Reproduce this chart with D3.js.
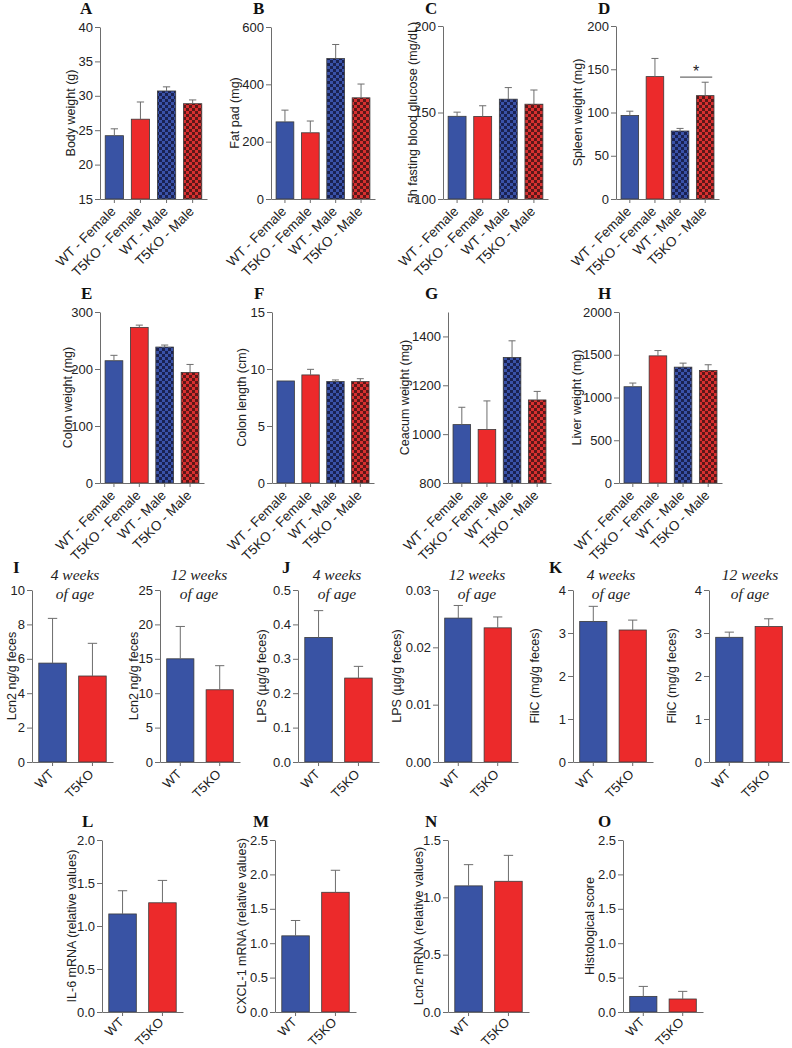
<!DOCTYPE html>
<html>
<head>
<meta charset="utf-8">
<script src="https://cdn.jsdelivr.net/npm/d3@7"></script>
<style>
  body { margin: 0; background: #fff; }
  svg { display: block; }
  text { font-family: "Liberation Sans", Arial, sans-serif; fill: #222; }
  .letter { font-family: "Liberation Serif", "Times New Roman", serif; font-weight: bold; font-size: 17px; fill: #111; }
  .sub { font-family: "Liberation Serif", "Times New Roman", serif; font-style: italic; font-size: 15.5px; fill: #222; }
</style>
</head>
<body>
<script>
// groups
var groups4 = ["WT - Female", "T5KO - Female", "WT - Male", "T5KO - Male"];
var groups2 = ["WT", "T5KO"];

// row 1
var bodyWeight = [24.2, 26.6, 30.7, 28.85];
var bodyWeightSem = [1.0, 2.5, 0.6, 0.55];
var fatPad = [269, 231, 490, 353];
var fatPadSem = [41, 41, 49, 48];
var glucose = [147.8, 147.7, 157.7, 154.8];
var glucoseSem = [2.4, 6.2, 6.7, 8.2];
var spleen = [96.5, 141.5, 78.6, 119.5];
var spleenSem = [5, 21, 3, 15.5];

// row 2
var colonWeight = [214.5, 273, 238.5, 194];
var colonWeightSem = [9.5, 4, 3.5, 14];
var colonLength = [8.95, 9.48, 8.9, 8.9];
var colonLengthSem = [0, 0.49, 0.14, 0.25];
var caecum = [1039, 1019, 1314, 1140];
var caecumSem = [71, 117, 68, 35];
var liver = [1126, 1487, 1355, 1317];
var liverSem = [43, 62, 47, 66];

// row 3
var lcn2Wk4 = [5.75, 5.0];
var lcn2Wk4Sem = [2.6, 1.9];
var lcn2Wk12 = [15.0, 10.5];
var lcn2Wk12Sem = [4.7, 3.5];
var lpsWk4 = [0.362, 0.244];
var lpsWk4Sem = [0.078, 0.034];
var lpsWk12 = [0.0251, 0.0234];
var lpsWk12Sem = [0.0022, 0.0019];
var flicWk4 = [3.27, 3.07];
var flicWk4Sem = [0.35, 0.23];
var flicWk12 = [2.9, 3.15];
var flicWk12Sem = [0.12, 0.18];

// row 4
var il6 = [1.14, 1.27];
var il6Sem = [0.27, 0.26];
var cxcl1 = [1.107, 1.74];
var cxcl1Sem = [0.223, 0.32];
var lcn2mRNA = [1.10, 1.14];
var lcn2mRNASem = [0.185, 0.226];
var histo = [0.227, 0.189];
var histoSem = [0.145, 0.111];

var blue = "#3953a4", red = "#ec2a2b";
var fills4 = [blue, red, "url(#chkBlue)", "url(#chkRed)"];
var fills2 = [blue, red];

var svg = d3.select("body").append("svg")
	.attr("width", 792)
	.attr("height", 1048);

var defs = svg.append("defs");
function checker(id, base, dark) {
	var p = defs.append("pattern").attr("id", id)
		.attr("width", 6).attr("height", 6)
		.attr("patternUnits", "userSpaceOnUse");
	p.append("rect").attr("width", 6).attr("height", 6).attr("fill", base);
	p.append("rect").attr("width", 3).attr("height", 3).attr("fill", dark);
	p.append("rect").attr("x", 3).attr("y", 3).attr("width", 3).attr("height", 3).attr("fill", dark);
}
checker("chkBlue", "#3a52a8", "#1a2252");
checker("chkRed", "#d83030", "#5c1818");

// layout of each panel: axis x start/end, axis top/bottom
var panels = [
	{letter: "A", lx: 80, ly: 14, x0: 100, x1: 207, y0: 27, y1: 199, dom: [15, 40], ticks: d3.range(15, 41, 5), fmt: "d", label: "Body weight (g)", labX: 71, cats: groups4, means: bodyWeight, sems: bodyWeightSem},
	{letter: "B", lx: 253, ly: 14, x0: 271, x1: 375, y0: 27, y1: 199, dom: [0, 600], ticks: [0, 200, 400, 600], fmt: "d", label: "Fat pad (mg)", labX: 235, cats: groups4, means: fatPad, sems: fatPadSem},
	{letter: "C", lx: 425, ly: 14, x0: 443, x1: 548, y0: 26, y1: 199, dom: [100, 200], ticks: [100, 150, 200], fmt: "d", label: "5h fasting blood glucose (mg/dL)", labX: 413, cats: groups4, means: glucose, sems: glucoseSem},
	{letter: "D", lx: 598, ly: 14, x0: 616, x1: 719, y0: 26, y1: 199, dom: [0, 200], ticks: d3.range(0, 201, 50), fmt: "d", label: "Spleen weight (mg)", labX: 578, cats: groups4, means: spleen, sems: spleenSem, sig: true},
	{letter: "E", lx: 81, ly: 299, x0: 100, x1: 204, y0: 312, y1: 483, dom: [0, 300], ticks: [0, 100, 200, 300], fmt: "d", label: "Colon weight (mg)", labX: 68, cats: groups4, means: colonWeight, sems: colonWeightSem},
	{letter: "F", lx: 254, ly: 299, x0: 272, x1: 374, y0: 312, y1: 483, dom: [0, 15], ticks: [0, 5, 10, 15], fmt: "d", label: "Colon length (cm)", labX: 242, cats: groups4, means: colonLength, sems: colonLengthSem},
	{letter: "G", lx: 425, ly: 299, x0: 448, x1: 551, y0: 312, y1: 483, dom: [800, 1500], ticks: [800, 1000, 1200, 1400], fmt: "d", label: "Ceacum weight (mg)", labX: 405, cats: groups4, means: caecum, sems: caecumSem},
	{letter: "H", lx: 598, ly: 299, x0: 619, x1: 722, y0: 312, y1: 483, dom: [0, 2000], ticks: d3.range(0, 2001, 500), fmt: "d", label: "Liver weight (mg)", labX: 577, cats: groups4, means: liver, sems: liverSem},
	{letter: "I", lx: 13, ly: 573, x0: 32, x1: 113, y0: 590, y1: 762, dom: [0, 10], ticks: d3.range(0, 11, 2), fmt: "d", label: "Lcn2 ng/g feces", labX: 12, cats: groups2, means: lcn2Wk4, sems: lcn2Wk4Sem, sub: ["4 weeks", "of age"], subX: 75},
	{x0: 160, x1: 240, y0: 590, y1: 762, dom: [0, 25], ticks: d3.range(0, 26, 5), fmt: "d", label: "Lcn2 ng/g feces", labX: 134, cats: groups2, means: lcn2Wk12, sems: lcn2Wk12Sem, sub: ["12 weeks", "of age"], subX: 199},
	{letter: "J", lx: 282, ly: 573, x0: 298, x1: 379, y0: 590, y1: 762, dom: [0, 0.5], ticks: d3.range(0, 0.51, 0.1), fmt: ".1f", label: "LPS (\u00b5g/g feces)", labX: 262, cats: groups2, means: lpsWk4, sems: lpsWk4Sem, sub: ["4 weeks", "of age"], subX: 337},
	{x0: 438, x1: 518, y0: 590, y1: 762, dom: [0, 0.03], ticks: [0, 0.01, 0.02, 0.03], fmt: ".2f", label: "LPS (\u00b5g/g feces)", labX: 397, cats: groups2, means: lpsWk12, sems: lpsWk12Sem, sub: ["12 weeks", "of age"], subX: 477},
	{letter: "K", lx: 549, ly: 573, x0: 573, x1: 653, y0: 590, y1: 762, dom: [0, 4], ticks: [0, 1, 2, 3, 4], fmt: "d", label: "FliC (mg/g feces)", labX: 535, cats: groups2, means: flicWk4, sems: flicWk4Sem, sub: ["4 weeks", "of age"], subX: 611},
	{x0: 709, x1: 789, y0: 590, y1: 762, dom: [0, 4], ticks: [0, 1, 2, 3, 4], fmt: "d", label: "FliC (mg/g feces)", labX: 672, cats: groups2, means: flicWk12, sems: flicWk12Sem, sub: ["12 weeks", "of age"], subX: 750},
	{letter: "L", lx: 82, ly: 827, x0: 102, x1: 183, y0: 840, y1: 1012, dom: [0, 2], ticks: d3.range(0, 2.01, 0.5), fmt: ".1f", label: "IL-6 mRNA (relative values)", labX: 72, cats: groups2, means: il6, sems: il6Sem, labOff: 5},
	{letter: "M", lx: 253, ly: 827, x0: 275, x1: 356, y0: 840, y1: 1012, dom: [0, 2.5], ticks: d3.range(0, 2.51, 0.5), fmt: ".1f", label: "CXCL-1 mRNA (relative values)", labX: 242, cats: groups2, means: cxcl1, sems: cxcl1Sem, labOff: 5},
	{letter: "N", lx: 425, ly: 827, x0: 448, x1: 529, y0: 840, y1: 1012, dom: [0, 1.5], ticks: d3.range(0, 1.51, 0.5), fmt: ".1f", label: "Lcn2 mRNA (relative values)", labX: 419, cats: groups2, means: lcn2mRNA, sems: lcn2mRNASem, labOff: 5},
	{letter: "O", lx: 598, ly: 827, x0: 623, x1: 703, y0: 840, y1: 1012, dom: [0, 2.5], ticks: d3.range(0, 2.51, 0.5), fmt: ".1f", label: "Histological score", labX: 590, cats: groups2, means: histo, sems: histoSem, labOff: 5}
];

var axisColor = "#6d6d6d";

panels.forEach(function(p) {
	var g = svg.append("g");
	var four = p.cats.length === 4;
	var x = d3.scaleBand().domain(p.cats).range([p.x0, p.x1])
		.paddingInner(four ? 0.3 : 0.31)
		.paddingOuter(four ? 0.2 : 0.17);
	var y = d3.scaleLinear().domain(p.dom).range([p.y1, p.y0]);
	var fills = four ? fills4 : fills2;

	var rows = p.cats.map(function(c, i) {
		return {cat: c, mean: p.means[i], sem: p.sems[i], fill: fills[i]};
	});

	// bars
	g.selectAll("rect.bar").data(rows).enter().append("rect")
		.attr("class", "bar")
		.attr("x", function(d) { return x(d.cat); })
		.attr("width", x.bandwidth())
		.attr("y", function(d) { return y(d.mean); })
		.attr("height", function(d) { return y(p.dom[0]) - y(d.mean); })
		.attr("fill", function(d) { return d.fill; })
		.attr("stroke", "#3a3a3a")
		.attr("stroke-width", 0.8);

	// error bars (upper only)
	var cap = x.bandwidth() * (four ? 0.2 : 0.17);
	var eb = g.selectAll("g.err").data(rows.filter(function(d) { return d.sem > 0; }))
		.enter().append("g").attr("class", "err")
		.attr("stroke", axisColor).attr("stroke-width", 1);
	eb.append("line")
		.attr("x1", function(d) { return x(d.cat) + x.bandwidth() / 2; })
		.attr("x2", function(d) { return x(d.cat) + x.bandwidth() / 2; })
		.attr("y1", function(d) { return y(d.mean); })
		.attr("y2", function(d) { return y(d.mean + d.sem); });
	eb.append("line")
		.attr("x1", function(d) { return x(d.cat) + x.bandwidth() / 2 - cap; })
		.attr("x2", function(d) { return x(d.cat) + x.bandwidth() / 2 + cap; })
		.attr("y1", function(d) { return y(d.mean + d.sem); })
		.attr("y2", function(d) { return y(d.mean + d.sem); });

	// y axis
	var yAxis = g.append("g")
		.attr("transform", "translate(" + p.x0 + ",0)")
		.call(d3.axisLeft(y).tickValues(p.ticks).tickFormat(d3.format(p.fmt)).tickSize(5).tickSizeOuter(0).tickPadding(2));
	// x axis
	var xAxis = g.append("g")
		.attr("transform", "translate(0," + p.y1 + ")")
		.call(d3.axisBottom(x).tickSize(4).tickSizeOuter(0).tickFormat(""));
	[yAxis, xAxis].forEach(function(a) {
		a.select(".domain").attr("stroke", axisColor);
		a.selectAll(".tick line").attr("stroke", axisColor);
		a.selectAll("text").attr("fill", "#222").style("font-size", "13px")
			.style("font-family", "'Liberation Sans', Arial, sans-serif");
	});

	// rotated category labels
	var off = p.labOff || 7;
	g.selectAll("text.cat").data(p.cats).enter().append("text")
		.attr("class", "cat")
		.attr("text-anchor", "end")
		.attr("font-size", four ? 13.5 : 13)
		.attr("dy", "0.65em")
		.attr("transform", function(c) {
			return "translate(" + (x(c) + x.bandwidth() / 2 - 4) + "," + (p.y1 + off) + ") rotate(-45)";
		})
		.text(function(c) { return c; });

	// y label
	g.append("text")
		.attr("text-anchor", "middle")
		.attr("font-size", 12.5)
		.attr("transform", "translate(" + p.labX + "," + ((p.y0 + p.y1) / 2) + ") rotate(-90)")
		.attr("dy", "0.35em")
		.text(p.label);

	if (p.letter) {
		g.append("text").attr("class", "letter")
			.attr("x", p.lx).attr("y", p.ly).text(p.letter);
	}
	if (p.sub) {
		g.append("text").attr("class", "sub").attr("text-anchor", "middle")
			.attr("x", p.subX).attr("y", p.y0 - 10).text(p.sub[0]);
		g.append("text").attr("class", "sub").attr("text-anchor", "middle")
			.attr("x", p.subX).attr("y", p.y0 + 9).text(p.sub[1]);
	}
	if (p.sig) {
		var a = x(p.cats[2]) + x.bandwidth() * 0.5, b = x(p.cats[3]) + x.bandwidth() * 0.9;
		var ly = y(141);
		g.append("line").attr("x1", a).attr("x2", b).attr("y1", ly).attr("y2", ly)
			.attr("stroke", axisColor).attr("stroke-width", 1.2);
		g.append("text").attr("text-anchor", "middle").attr("font-size", 16)
			.attr("x", (a + b) / 2).attr("y", ly).text("*");
	}
});
</script>
</body>
</html>
